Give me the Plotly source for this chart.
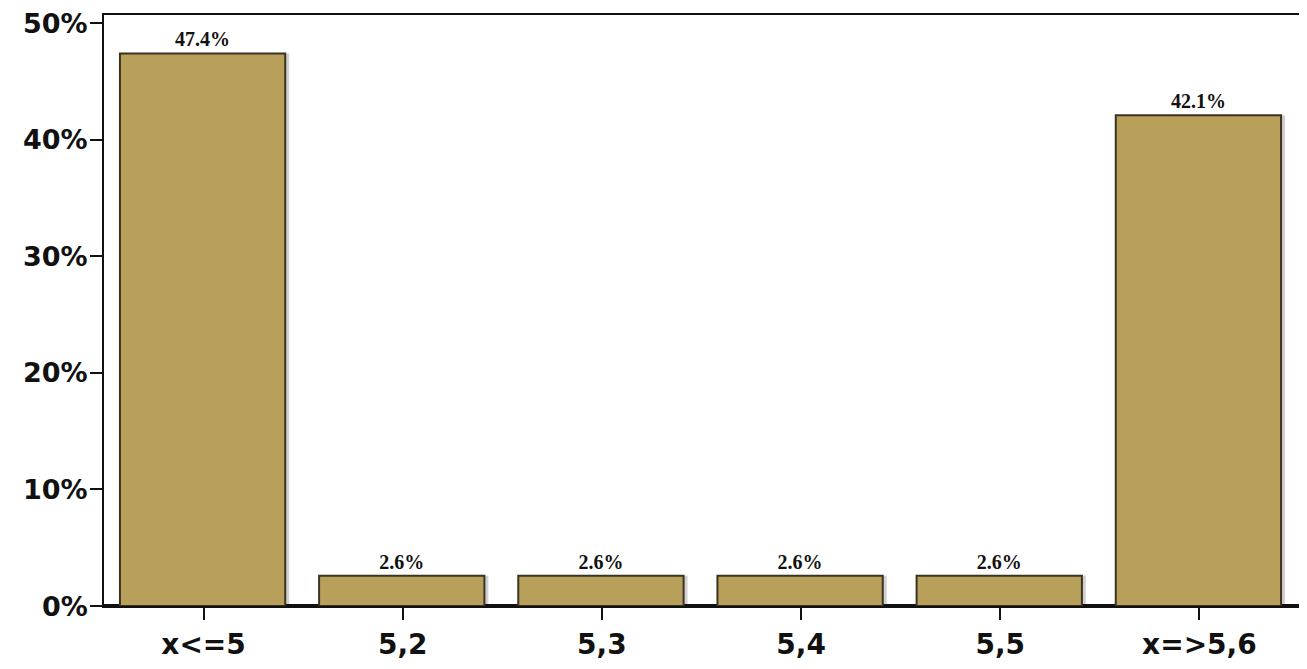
import plotly.graph_objects as go

categories = ["x<=5", "5,2", "5,3", "5,4", "5,5", "x=>5,6"]
values = [47.4, 2.6, 2.6, 2.6, 2.6, 42.1]
labels = ["47.4%", "2.6%", "2.6%", "2.6%", "2.6%", "42.1%"]
y_ticks = [0, 10, 20, 30, 40, 50]
y_tick_labels = ["0%", "10%", "20%", "30%", "40%", "50%"]

fig = go.Figure()
# shadow
fig.add_trace(go.Bar(x=categories, y=values, marker=dict(color="rgba(0,0,0,0.18)", line=dict(width=0)),
                     width=0.83, offset=-0.40, hoverinfo="skip", showlegend=False))
fig.add_trace(go.Bar(x=categories, y=values, text=labels, textposition="outside",
                     textfont=dict(family="Liberation Serif", size=20, color="#111", weight="bold"),
                     marker=dict(color="#b9a05a", line=dict(color="#3a3322", width=2)),
                     width=0.83, offset=-0.42, cliponaxis=False, showlegend=False))
for v, t in zip(y_ticks, y_tick_labels):
    fig.add_annotation(x=0, xref="paper", xanchor="right", xshift=-14, y=v, yref="y",
                       text=t, showarrow=False,
                       font=dict(family="DejaVu Sans", size=27, color="#111", weight="bold"))
fig.update_layout(
    width=1291, height=653, barmode="overlay",
    plot_bgcolor="white", paper_bgcolor="white",
    margin=dict(l=96, r=0, t=7, b=55, autoexpand=False),
    font=dict(family="DejaVu Sans", size=28, color="#111"),
)
fig.update_xaxes(showline=True, linecolor="#111", linewidth=2, mirror=True, ticks="outside", automargin=False,
                 ticklen=12, tickwidth=2, tickcolor="#111", tickfont=dict(family="DejaVu Sans", size=28, weight="bold"))
fig.update_yaxes(range=[0, 50.7], tickvals=y_ticks, showticklabels=False,
                 showline=True, linecolor="#111", linewidth=2, mirror=True, ticks="outside", ticklen=12, automargin=False,
                 tickwidth=2, tickcolor="#111", showgrid=False, zeroline=True, zerolinecolor="#111", zerolinewidth=4)
fig.write_html("out.html")
